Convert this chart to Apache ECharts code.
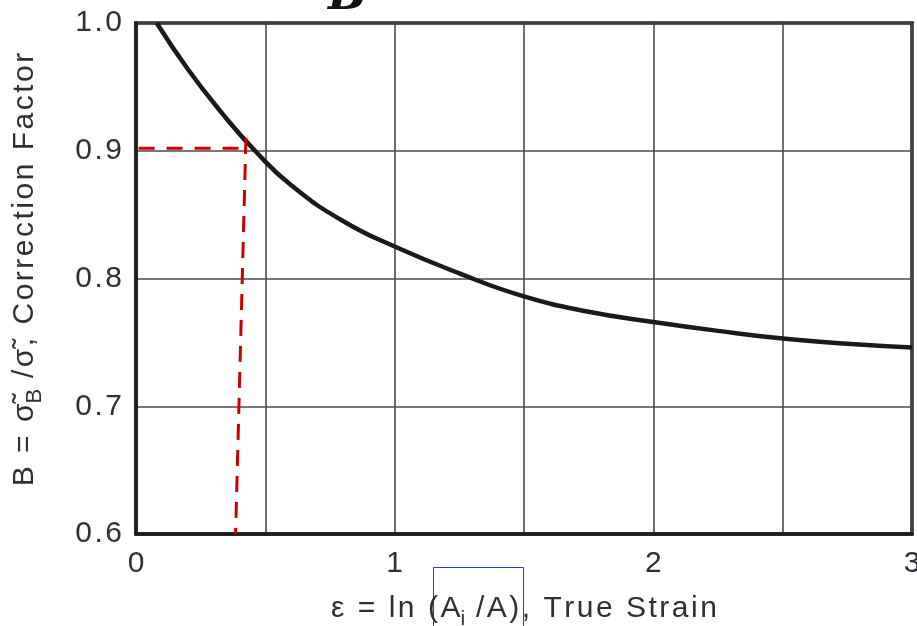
<!DOCTYPE html>
<html>
<head>
<meta charset="utf-8">
<script src="https://cdn.jsdelivr.net/npm/echarts@6/dist/echarts.min.js"></script>
<style>
  html, body { margin: 0; padding: 0; background: #fff; }
  #chart { width: 917px; height: 626px; }
</style>
</head>
<body>
<div id="chart"></div>
<script>
// correction factor curve
const strain = [0.08, 0.2, 0.33, 0.46, 0.6, 0.8, 1.0, 1.25, 1.5, 1.75, 2.0, 2.25, 2.5, 2.75, 3.0];
const factor = [1.0, 0.964, 0.93, 0.9, 0.873, 0.845, 0.825, 0.804, 0.786, 0.774, 0.766, 0.759, 0.753, 0.749, 0.746];

// red dashed guide lines
const guideH = [[0.01, 0.902], [0.43, 0.902]];
const guideV = [[0.425, 0.91], [0.385, 0.6]];

const xTicks = [0, 1, 2, 3];

// the scan uses loose tracking, mimic it with hair spaces (keep combining tilde on its letter)
const track = (s) => s.match(/.\u0303?/gu).join("\u200A");

const chart = echarts.init(document.getElementById("chart"));

const labelFont = "'Liberation Sans', Arial, sans-serif";
const textColor = "#2f2f35";

chart.setOption({
  animation: false,
  grid: {
    left: 136,
    right: 5,
    top: 23,
    bottom: 92,
    outerBoundsMode: "none",
    show: true,
    borderColor: "#1e1e1e",
    borderWidth: 3.5,
  },
  xAxis: {
    type: "value",
    min: 0,
    max: 3,
    interval: 0.5,
    name: "{a|" + track("ε = ln (A") + "}{s|i}{a|" + track(" /A), True Strain") + "}",
    nameLocation: "middle",
    nameGap: 60,
    nameTextStyle: {
      rich: {
        a: { fontSize: 30, fontFamily: labelFont, color: textColor, lineHeight: 36, verticalAlign: "top" },
        s: { fontSize: 21, fontFamily: labelFont, color: textColor, lineHeight: 27, verticalAlign: "bottom" },
      },
    },
    axisLine: { show: true, lineStyle: { color: "#1e1e1e", width: 3.5 } },
    axisTick: { show: false },
    axisLabel: {
      margin: 15,
      fontSize: 30,
      fontFamily: labelFont,
      color: textColor,
      formatter: (v) => (xTicks.includes(v) ? String(v) : ""),
    },
    splitLine: { show: true, lineStyle: { color: "#4a4a4a", width: 1.6 } },
  },
  yAxis: {
    type: "value",
    min: 0.6,
    max: 1.0,
    interval: 0.1,
    name: "{gap|}{a|" + track("B = σ\u0303") + "}{s|B}{a|" + track(" /σ\u0303, Correction Factor") + "}",
    nameLocation: "middle",
    nameRotate: 90,
    nameGap: 90,
    nameTextStyle: {
      rich: {
        a: { fontSize: 30, fontFamily: labelFont, color: textColor, lineHeight: 36, verticalAlign: "top" },
        s: { fontSize: 22, fontFamily: labelFont, color: textColor, lineHeight: 27, verticalAlign: "bottom" },
        gap: { width: 18 },
      },
    },
    axisLine: { show: true, lineStyle: { color: "#1e1e1e", width: 3.5 } },
    axisTick: { show: false },
    axisLabel: {
      margin: 14,
      fontSize: 30,
      fontFamily: labelFont,
      color: textColor,
      formatter: (v) => track(v.toFixed(1)),
    },
    splitLine: { show: true, lineStyle: { color: "#4a4a4a", width: 1.6 } },
  },
  series: [
    {
      type: "line",
      data: strain.map((x, i) => [x, factor[i]]),
      smooth: true,
      showSymbol: false,
      lineStyle: { color: "#1a1a1a", width: 4.5 },
      z: 3,
    },
    {
      type: "line",
      data: guideH,
      showSymbol: false,
      lineStyle: { color: "#cc0000", width: 3, type: [16, 12] },
      z: 4,
    },
    {
      type: "line",
      data: guideV,
      showSymbol: false,
      lineStyle: { color: "#cc0000", width: 3, type: [16, 10] },
      z: 4,
    },
  ],
  graphic: [
    {
      type: "text",
      left: 328,
      top: -26,
      style: {
        text: "B",
        font: "italic bold 46px 'DejaVu Serif', serif",
        fill: "#111",
      },
    },
    {
      type: "rect",
      shape: { x: 433.5, y: 567.5, width: 90, height: 62 },
      style: { fill: "none", stroke: "#2233ff", lineWidth: 1 },
    },
  ],
});
</script>
</body>
</html>
